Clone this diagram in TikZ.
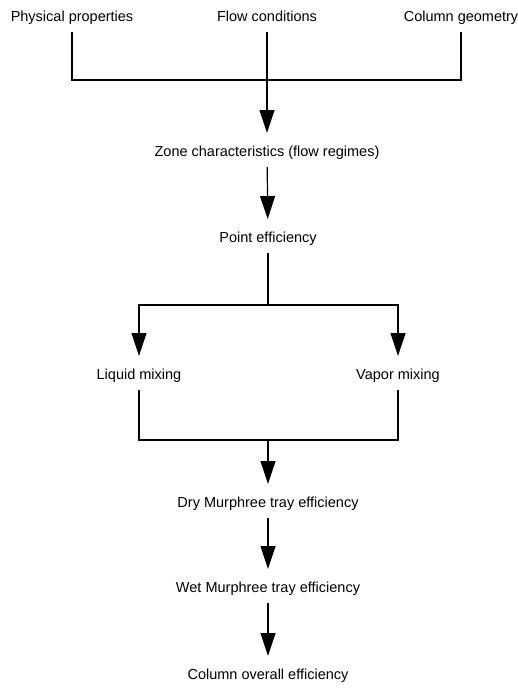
\documentclass[tikz,border=0pt]{standalone}
\usepackage{fontspec}
\setmainfont{Liberation Sans}
\usetikzlibrary{arrows.meta}

\begin{document}
\begin{tikzpicture}[x=1pt, y=-1pt,
  box/.style = {inner sep=0pt, outer sep=8pt, text height=11pt, text depth=3pt,
                font=\fontsize{14.5}{16}\selectfont},
  link/.style = {line width=1.2pt},
  arr/.style = {link, -{Triangle[length=23pt, width=15pt]}, shorten >=4pt}]

\useasboundingbox (0,0) rectangle (518,688);

\node[box] (phys) at (72,17) {Physical properties};
\node[box] (flow) at (267,17) {Flow conditions};
\node[box] (geom) at (461,17) {Column geometry};
\node[box] (zone) at (267,152) {Zone characteristics (flow regimes)};
\node[box] (point) at (268,238) {Point efficiency};
\node[box] (liquid) at (139,375) {Liquid mixing};
\node[box] (vapor) at (398,375) {Vapor mixing};
\node[box] (dry) at (268,503) {Dry Murphree tray efficiency};
\node[box] (wet) at (268,588) {Wet Murphree tray efficiency};
\node[box] (column) at (268,675) {Column overall efficiency};

\coordinate (topjoin) at (267,80);
\coordinate (split) at (268,305);
\coordinate (merge) at (268,440);

\draw[link] (phys) |- (topjoin);
\draw[link] (geom) |- (topjoin);
\draw[arr] (flow) -- (zone);
\draw[arr] (zone) -- (point);
\draw[link] (point) -- (split);
\draw[arr] (split) -| (liquid);
\draw[arr] (split) -| (vapor);
\draw[link] (liquid) |- (merge);
\draw[link] (vapor) |- (merge);
\draw[arr] (merge) -- (dry);
\draw[arr] (dry) -- (wet);
\draw[arr] (wet) -- (column);

\end{tikzpicture}
\end{document}
